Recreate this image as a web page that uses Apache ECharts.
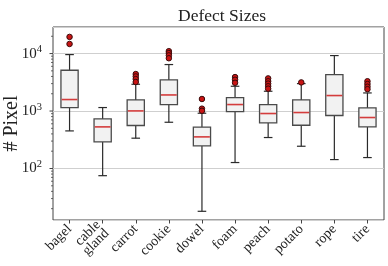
<!DOCTYPE html>
<html><head><meta charset="utf-8">
<script src="https://cdn.jsdelivr.net/npm/echarts@6/dist/echarts.min.js"></script>
<style>html,body{margin:0;padding:0;background:#fff}#c{width:388px;height:266px}</style>
</head><body><div id="c"></div>
<script>
const categories = ['bagel','cable\ngland','carrot','cookie','dowel','foam','peach','potato','rope','tire'];
const whiskerLow = [451, 75, 337, 638, 18, 127, 346, 244, 143, 155];
const q1 =         [1150, 290, 560, 1297, 247, 980, 621, 566, 836, 530];
const medians =    [1585, 530, 1005, 1905, 355, 1297, 905, 942, 1860, 771];
const q3 =         [5130, 730, 1560, 3475, 523, 1716, 1297, 1560, 4315, 1133];
const whiskerHigh = [9600, 1150, 2925, 6440, 916, 2700, 2210, 3000, 9230, 2065];
const outliers = [
  [0, 19500],[0, 14700],
  [2, 4400],[2, 4000],[2, 3600],[2, 3200],
  [3, 11000],[3, 10200],[3, 9300],[3, 8300],
  [4, 1620],[4, 1100],[4, 1010],
  [5, 3900],[5, 3500],[5, 3100],
  [6, 3700],[6, 3300],[6, 3000],[6, 2700],[6, 2450],
  [7, 3150],
  [9, 3300],[9, 2950],[9, 2650],[9, 2400]
];
const yTicks = [100, 1000, 10000];
const minorTicks = [20,30,40,50,60,70,80,90,200,300,400,500,600,700,800,900,2000,3000,4000,5000,6000,7000,8000,9000,20000];

const boxData = categories.map((c,i)=>[i, whiskerLow[i], q1[i], medians[i], q3[i], whiskerHigh[i]]);
const FONT = '"Liberation Serif", "DejaVu Serif", serif';

const chart = echarts.init(document.getElementById('c'), null, {renderer:'canvas'});
chart.setOption({
  animation:false,
  title:{text:'Defect Sizes', left:217, top:2, textAlign:'center',
    textStyle:{fontFamily:FONT, fontWeight:'normal', fontSize:17.5, color:'#222'}},
  grid:{left:53, right:4, top:27, bottom:46, show:true, borderColor:'#444', borderWidth:1,
    containLabel:false, outerBoundsMode:'none'},
  xAxis:{type:'category', data:categories, boundaryGap:true,
    axisLine:{show:false}, axisTick:{show:true, alignWithLabel:true, length:3.5, lineStyle:{color:'#444'}},
    axisLabel:{rotate:45, fontFamily:FONT, fontSize:14, color:'#222', margin:7, lineHeight:12, interval:0},
    splitLine:{show:false}},
  yAxis:{type:'log', logBase:10, min:12.7, max:29000,
    name:'# Pixel', nameLocation:'middle', nameRotate:90, nameGap:31, nameMoveOverlap:false,
    nameTextStyle:{fontFamily:FONT, fontSize:20, color:'#222'},
    axisLine:{show:false}, axisTick:{show:false},
    axisLabel:{fontFamily:FONT, fontSize:15, color:'#222', margin:11,
      formatter:function(v){
        const e = Math.round(Math.log10(v));
        if (Math.abs(Math.pow(10,e)-v) > 1e-6*v) return '';
        return '10{sup|' + e + '}';
      },
      rich:{sup:{fontFamily:FONT, fontSize:10.5, verticalAlign:'top', padding:[0,0,8,0], color:'#222'}}},
    splitLine:{show:true, lineStyle:{color:'#cfcfcf', width:1}}},
  series:[
    {type:'custom', coordinateSystem:'cartesian2d', clip:false, z:1,
      data: yTicks.map(v=>[0, v, 1]).concat(minorTicks.map(v=>[0, v, 0])),
      renderItem:function(params, api){
        const p = api.coord([0, api.value(1)]);
        const x0 = params.coordSys.x;
        const major = api.value(2) === 1;
        const len = major ? 3.5 : 2;
        return {type:'line', shape:{x1:x0-len, y1:p[1], x2:x0, y2:p[1]},
          style:{stroke:'#444', lineWidth: major?1:0.8}};
      }},
    {type:'custom', coordinateSystem:'cartesian2d', z:3,
      data: boxData,
      encode:{x:0, y:[1,2,3,4,5]},
      renderItem:function(params, api){
        const i = api.value(0);
        const w = api.size([1,0])[0] * 0.52;
        const cw = w * 0.5;
        const pLow = api.coord([i, api.value(1)]);
        const pQ1 = api.coord([i, api.value(2)]);
        const pMed = api.coord([i, api.value(3)]);
        const pQ3 = api.coord([i, api.value(4)]);
        const pHigh = api.coord([i, api.value(5)]);
        const x = pMed[0];
        const wl = {stroke:'#2a2a2a', lineWidth:1.2};
        return {type:'group', children:[
          {type:'line', shape:{x1:x, y1:pQ3[1], x2:x, y2:pHigh[1]}, style:wl},
          {type:'line', shape:{x1:x, y1:pQ1[1], x2:x, y2:pLow[1]}, style:wl},
          {type:'line', shape:{x1:x-cw/2, y1:pHigh[1], x2:x+cw/2, y2:pHigh[1]}, style:wl},
          {type:'line', shape:{x1:x-cw/2, y1:pLow[1], x2:x+cw/2, y2:pLow[1]}, style:wl},
          {type:'rect', shape:{x:x-w/2, y:pQ3[1], width:w, height:pQ1[1]-pQ3[1]},
            style:{fill:'#f2f2f2', stroke:'#4a4a4a', lineWidth:1.3}},
          {type:'line', shape:{x1:x-w/2+0.7, y1:pMed[1], x2:x+w/2-0.7, y2:pMed[1]},
            style:{stroke:'#d43c3c', lineWidth:1.6}}
        ]};
      }},
    {type:'scatter', data:outliers, z:4, symbol:'circle', symbolSize:5.5,
      itemStyle:{color:'#c81414', borderColor:'#3a0a0a', borderWidth:1, opacity:1}}
  ]
});
</script></body></html>
